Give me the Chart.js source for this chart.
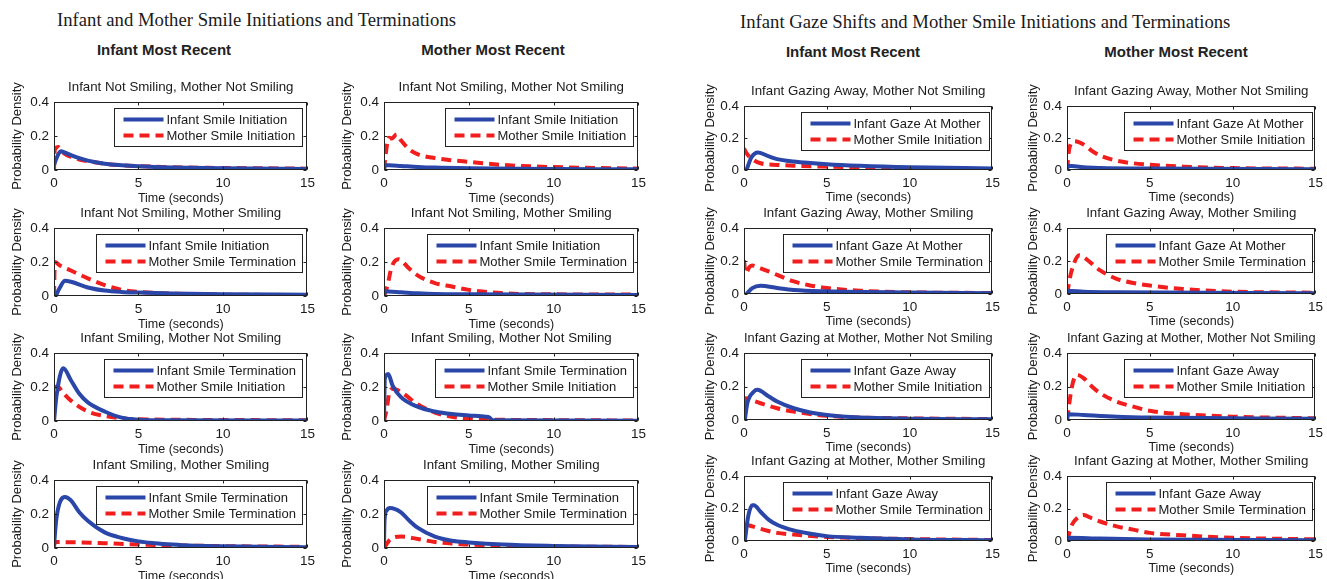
<!DOCTYPE html>
<html><head><meta charset="utf-8">
<script src="https://cdn.jsdelivr.net/npm/chart.js@4.4.1/dist/chart.umd.min.js"></script>
<style>
html,body{margin:0;padding:0;background:#fff}
body{width:1327px;height:579px;overflow:hidden;position:relative;font-family:"Liberation Sans",Arial,Helvetica,sans-serif;color:#1a1a1a}
.ptitle{position:absolute;font-family:"Liberation Serif","Times New Roman",serif;font-size:18.7px;line-height:22px;white-space:nowrap}
.chead{position:absolute;font-size:15px;line-height:18px;font-weight:bold;white-space:nowrap;transform:translateX(-50%);color:#222}
canvas{position:absolute}
</style></head><body>
<div class="ptitle" style="left:57px;top:9px">Infant and Mother Smile Initiations and Terminations</div>
<div class="ptitle" style="left:740px;top:11px">Infant Gaze Shifts and Mother Smile Initiations and Terminations</div>
<div class="chead" style="left:164px;top:41px">Infant Most Recent</div>
<div class="chead" style="left:493px;top:41px">Mother Most Recent</div>
<div class="chead" style="left:853px;top:43px">Infant Most Recent</div>
<div class="chead" style="left:1176px;top:43px">Mother Most Recent</div>
<script>
// ---------- tick labels ----------
const xTicks = [0, 5, 10, 15];
const yTicks = [0, 0.2, 0.4];

// ---------- Panel A: Infant and Mother Smile Initiations and Terminations ----------
const A_titles = ["Infant Not Smiling, Mother Not Smiling", "Infant Not Smiling, Mother Smiling",
                  "Infant Smiling, Mother Not Smiling", "Infant Smiling, Mother Smiling"];
const A_blueLabels = ["Infant Smile Initiation", "Infant Smile Initiation", "Infant Smile Termination", "Infant Smile Termination"];
const A_redLabels  = ["Mother Smile Initiation", "Mother Smile Termination", "Mother Smile Initiation", "Mother Smile Termination"];

// [time (s), density] pairs; c1 = Infant Most Recent, c2 = Mother Most Recent
const A_r1c1_blue = [[0,0.03],[0.15,0.07],[0.4,0.11],[0.7,0.1],[1,0.088],[1.5,0.07],[2,0.055],[3,0.037],[4,0.028],[5,0.022],[7,0.015],[10,0.01],[15,0.006]];
const A_r1c1_red  = [[0,0],[0.05,0.12],[0.25,0.135],[0.5,0.105],[0.8,0.085],[1,0.078],[1.5,0.062],[2,0.052],[3,0.037],[4,0.028],[5,0.023],[7,0.016],[10,0.012],[15,0.008]];
const A_r1c2_blue = [[0,0],[0.05,0.028],[0.3,0.028],[1,0.024],[2,0.018],[3,0.014],[5,0.01],[8,0.007],[15,0.004]];
const A_r1c2_red  = [[0,0],[0.15,0.13],[0.3,0.19],[0.45,0.185],[0.75,0.21],[1,0.175],[1.5,0.12],[2,0.092],[3,0.07],[4,0.057],[5,0.048],[7,0.03],[10,0.017],[15,0.008]];

const A_r2c1_blue = [[0.1,0],[0.35,0.05],[0.65,0.09],[1,0.084],[2,0.05],[3,0.032],[4,0.024],[5,0.02],[7,0.014],[10,0.01],[15,0.008]];
const A_r2c1_red  = [[0,0],[0.05,0.2],[0.35,0.18],[1,0.15],[2,0.104],[3,0.064],[4,0.036],[5,0.024],[7,0.014],[10,0.008],[15,0.006]];
const A_r2c2_blue = [[0,0],[0.05,0.028],[0.3,0.026],[1,0.022],[2,0.016],[3,0.012],[5,0.01],[15,0.006]];
const A_r2c2_red  = [[0,0],[0.2,0.06],[0.45,0.17],[0.85,0.216],[1.5,0.16],[2,0.12],[3,0.076],[4,0.056],[5,0.036],[7,0.016],[10,0.01],[15,0.008]];

const A_r3c1_blue = [[0,0],[0.15,0.15],[0.55,0.31],[1,0.24],[1.5,0.16],[2,0.11],[3,0.056],[4,0.02],[5,0.008],[7,0.004],[15,0.003]];
const A_r3c1_red  = [[0,0],[0.04,0.19],[0.2,0.205],[0.5,0.17],[1,0.12],[2,0.056],[3,0.03],[4,0.016],[5,0.01],[10,0.006],[15,0.004]];
const A_r3c2_blue = [[0,0],[0.05,0.25],[0.25,0.276],[0.5,0.21],[1,0.14],[2,0.083],[3,0.056],[4,0.041],[5,0.033],[6,0.025],[6.2,0.022],[6.4,0.004],[15,0.002]];
const A_r3c2_red  = [[0,0],[0.15,0.066],[0.35,0.18],[0.55,0.19],[1,0.17],[2,0.097],[3,0.05],[4,0.025],[5,0.014],[7,0.007],[10,0.005],[15,0.003]];

const A_r4c1_blue = [[0,0.015],[0.15,0.18],[0.65,0.3],[1,0.28],[1.5,0.21],[2,0.16],[3,0.092],[4,0.059],[5,0.039],[6,0.028],[7,0.02],[8,0.014],[10,0.01],[15,0.005]];
const A_r4c1_red  = [[0,0.005],[0.05,0.035],[1,0.034],[3,0.028],[5,0.021],[8,0.014],[10,0.011],[15,0.007]];
const A_r4c2_blue = [[0,0.01],[0.03,0.16],[0.15,0.22],[0.35,0.235],[1,0.21],[1.5,0.16],[2,0.118],[3,0.067],[4,0.043],[5,0.033],[7,0.02],[10,0.012],[15,0.006]];
const A_r4c2_red  = [[0,0],[0.3,0.043],[0.5,0.059],[1,0.067],[2,0.053],[3,0.035],[4,0.027],[5,0.02],[7,0.013],[10,0.009],[15,0.006]];

// ---------- Panel B: Infant Gaze Shifts and Mother Smile Initiations and Terminations ----------
const B_titles = ["Infant Gazing Away, Mother Not Smiling", "Infant Gazing Away, Mother Smiling",
                  "Infant Gazing at Mother, Mother Not Smiling", "Infant Gazing at Mother, Mother Smiling"];
const B_blueLabels = ["Infant Gaze At Mother", "Infant Gaze At Mother", "Infant Gaze Away", "Infant Gaze Away"];
const B_redLabels  = ["Mother Smile Initiation", "Mother Smile Termination", "Mother Smile Initiation", "Mother Smile Termination"];

const B_r1c1_blue = [[0.15,0],[0.45,0.08],[0.85,0.11],[1.5,0.085],[2,0.068],[3,0.053],[5,0.036],[7,0.026],[10,0.017],[15,0.01]];
const B_r1c1_red  = [[0,0.135],[0.15,0.105],[0.5,0.068],[1,0.042],[2,0.032],[3,0.027],[5,0.021],[10,0.01],[15,0.006]];
const B_r1c2_blue = [[0,0.0],[0.05,0.027],[1,0.017],[2,0.013],[5,0.009],[15,0.005]];
const B_r1c2_red  = [[0,0],[0.15,0.14],[0.45,0.18],[1,0.16],[1.5,0.12],[2,0.09],[3,0.058],[4,0.042],[5,0.033],[7,0.021],[10,0.012],[15,0.008]];

const B_r2c1_blue = [[0.15,0],[0.5,0.036],[1,0.05],[2,0.036],[3,0.024],[5,0.016],[10,0.009],[15,0.005]];
const B_r2c1_red  = [[0,0.205],[0.1,0.126],[0.35,0.166],[0.5,0.172],[1,0.156],[2,0.116],[3,0.076],[4,0.052],[5,0.036],[7,0.02],[10,0.01],[15,0.006]];
const B_r2c2_blue = [[0,0],[0.05,0.02],[1,0.014],[3,0.01],[15,0.005]];
const B_r2c2_red  = [[0,0],[0.25,0.13],[0.75,0.235],[1,0.224],[1.5,0.184],[2,0.143],[3,0.092],[4,0.067],[5,0.051],[7,0.03],[10,0.014],[15,0.008]];

const B_r3c1_blue = [[0.05,0],[0.2,0.1],[0.6,0.17],[0.8,0.18],[1.5,0.14],[2,0.11],[3,0.07],[4,0.045],[5,0.03],[7,0.015],[10,0.008],[15,0.004]];
const B_r3c1_red  = [[0,0],[0.1,0.13],[0.4,0.12],[1,0.1],[2,0.07],[3,0.05],[5,0.025],[7,0.015],[10,0.01],[15,0.005]];
const B_r3c2_blue = [[0,0],[0.05,0.035],[1,0.03],[3,0.02],[5,0.015],[15,0.008]];
const B_r3c2_red  = [[0,0],[0.3,0.2],[0.6,0.27],[1,0.25],[1.5,0.2],[2,0.16],[3,0.11],[4,0.08],[5,0.055],[7,0.035],[10,0.02],[15,0.01]];

const B_r4c1_blue = [[0.05,0],[0.25,0.15],[0.5,0.22],[0.6,0.22],[1,0.18],[1.5,0.13],[2,0.1],[3,0.065],[4,0.045],[5,0.03],[7,0.02],[10,0.01],[15,0.005]];
const B_r4c1_red  = [[0,0],[0.1,0.1],[0.5,0.09],[1,0.075],[2,0.05],[3,0.04],[5,0.025],[10,0.012],[15,0.006]];
const B_r4c2_blue = [[0,0],[0.05,0.02],[2,0.015],[5,0.01],[15,0.005]];
const B_r4c2_red  = [[0,0],[0.3,0.1],[0.6,0.14],[1,0.16],[1.5,0.14],[2,0.12],[3,0.09],[4,0.07],[5,0.05],[7,0.035],[10,0.02],[15,0.01]];

// ---------- styling / layout ----------
const FONT = '"Liberation Sans", Arial, Helvetica, sans-serif';
const TEXT = '#1a1a1a';
const BLUE = '#2a46a8';
const RED = '#f21d1d';
const PAD_L = 54, PAD_T = 28, PAD_B = 37, PAD_R = 12;

Chart.defaults.font.family = FONT;
Chart.defaults.color = TEXT;

const matlabAxes = {
  id: 'matlabAxes',
  afterDatasetsDraw(chart, args, opts) {
    const {ctx, chartArea: a, scales: {x, y}} = chart;
    ctx.save();
    // axes box
    ctx.strokeStyle = '#222';
    ctx.lineWidth = 1;
    ctx.setLineDash([]);
    const L = Math.round(a.left) + 0.5, R = Math.round(a.right) - 0.5, T = Math.round(a.top) + 0.5, B = Math.round(a.bottom) - 0.5;
    ctx.strokeRect(L, T, R - L, B - T);
    // inward tick marks
    ctx.beginPath();
    xTicks.forEach(v => {
      const px = Math.round(x.getPixelForValue(v)) + 0.5;
      ctx.moveTo(px, T); ctx.lineTo(px, T + 3);
      ctx.moveTo(px, B); ctx.lineTo(px, B - 3);
    });
    yTicks.forEach(v => {
      const py = Math.round(y.getPixelForValue(v)) + 0.5;
      ctx.moveTo(L, py); ctx.lineTo(L + 3, py);
      ctx.moveTo(R, py); ctx.lineTo(R - 3, py);
    });
    ctx.stroke();
    // legend inside, top right
    ctx.font = '13px ' + FONT;
    const ds = chart.data.datasets;
    const tw = Math.max(...ds.map(d => ctx.measureText(d.label).width));
    const lw = Math.round(52 + tw + 7), lh = 38;
    const lx = Math.round(a.right - opts.gap - lw) + 0.5, ly = Math.round(a.top + 6) + 0.5;
    ctx.fillStyle = '#fff';
    ctx.fillRect(lx, ly, lw, lh);
    ctx.strokeStyle = '#222';
    ctx.lineWidth = 1;
    ctx.strokeRect(lx, ly, lw, lh);
    ds.forEach((d, i) => {
      const cy = ly + 11 + i * 16;
      ctx.beginPath();
      ctx.setLineDash(d.borderDash || []);
      ctx.strokeStyle = d.borderColor;
      ctx.lineWidth = d.borderWidth;
      ctx.moveTo(lx + 9, cy); ctx.lineTo(lx + 49, cy);
      ctx.stroke();
      ctx.setLineDash([]);
      ctx.fillStyle = TEXT;
      ctx.textBaseline = 'middle';
      ctx.textAlign = 'left';
      ctx.fillText(d.label, lx + 52, cy + 0.5);
    });
    ctx.restore();
  }
};

function pts(arr) { return arr.map(p => ({x: p[0], y: p[1]})); }

function makeChart(left, top, w, h, title, blueLabel, blueData, redLabel, redData, opt) {
  const c = document.createElement('canvas');
  const W = PAD_L + w + PAD_R, H = PAD_T + h + PAD_B;
  c.width = W; c.height = H;
  c.style.left = (left - PAD_L) + 'px';
  c.style.top = (top - PAD_T) + 'px';
  c.style.width = W + 'px'; c.style.height = H + 'px';
  document.body.appendChild(c);
  new Chart(c, {
    type: 'line',
    data: {datasets: [
      {label: blueLabel, data: pts(blueData), borderColor: BLUE, borderWidth: 4, pointRadius: 0,
       cubicInterpolationMode: 'monotone', fill: false},
      {label: redLabel, data: pts(redData), borderColor: RED, borderWidth: 4, borderDash: [10, 6], pointRadius: 0,
       cubicInterpolationMode: 'monotone', fill: false}
    ]},
    options: {
      responsive: false, animation: false, devicePixelRatio: 1,
      layout: {padding: {left: 0, right: PAD_R, top: 0, bottom: 0}},
      plugins: {
        legend: {display: false}, tooltip: {enabled: false},
        title: {display: true, text: title, fullSize: false, color: TEXT,
                font: {size: 13.3, weight: 'normal', lineHeight: '16px'}, padding: {top: 5, bottom: 7}},
        matlabAxes: {gap: opt.gap}
      },
      scales: {
        x: {type: 'linear', min: 0, max: 15,
            afterBuildTicks: s => { s.ticks = xTicks.map(v => ({value: v})); },
            ticks: {font: {size: 13.5}, color: TEXT, padding: 5, maxRotation: 0, autoSkip: false},
            grid: {display: false, drawTicks: false}, border: {display: false},
            title: {display: true, text: 'Time (seconds)', color: TEXT, font: {size: 12.5, lineHeight: '16px'}, padding: {top: 0, bottom: opt.xtb}},
            afterFit: s => { s.height = PAD_B; }},
        y: {type: 'linear', min: 0, max: 0.4,
            afterBuildTicks: s => { s.ticks = yTicks.map(v => ({value: v})); },
            ticks: {font: {size: 13.5}, color: TEXT, padding: 5, callback: v => v === 0 ? '0' : v.toFixed(1)},
            grid: {display: false, drawTicks: false}, border: {display: false},
            title: {display: true, text: 'Probability Density', color: TEXT, font: {size: 13, lineHeight: '16px'}, padding: {top: opt.ytp, bottom: 0}},
            afterFit: s => { s.width = PAD_L; }}
      }
    },
    plugins: [matlabAxes]
  });
}

const A_data = [[A_r1c1_blue, A_r1c1_red, A_r1c2_blue, A_r1c2_red],
                [A_r2c1_blue, A_r2c1_red, A_r2c2_blue, A_r2c2_red],
                [A_r3c1_blue, A_r3c1_red, A_r3c2_blue, A_r3c2_red],
                [A_r4c1_blue, A_r4c1_red, A_r4c2_blue, A_r4c2_red]];
const B_data = [[B_r1c1_blue, B_r1c1_red, B_r1c2_blue, B_r1c2_red],
                [B_r2c1_blue, B_r2c1_red, B_r2c2_blue, B_r2c2_red],
                [B_r3c1_blue, B_r3c1_red, B_r3c2_blue, B_r3c2_red],
                [B_r4c1_blue, B_r4c1_red, B_r4c2_blue, B_r4c2_red]];

const A_layout = {cols: [[54, 254], [384, 255]], rows: [[102, 68], [228, 68], [353, 68], [480, 68]], opt: {gap: 5, ytp: 9, xtb: 0}};
const B_layout = {cols: [[744, 249], [1067, 249]], rows: [[106, 64], [228, 66], [353, 67], [476, 65]], opt: {gap: 3, ytp: 12, xtb: 1}};

function buildPanel(layout, titles, blueLabels, redLabels, data) {
  for (let r = 0; r < 4; r++) {
    for (let c = 0; c < 2; c++) {
      const [left, w] = layout.cols[c];
      const [top, h] = layout.rows[r];
      makeChart(left, top, w, h, titles[r], blueLabels[r], data[r][c * 2], redLabels[r], data[r][c * 2 + 1], layout.opt);
    }
  }
}
buildPanel(A_layout, A_titles, A_blueLabels, A_redLabels, A_data);
buildPanel(B_layout, B_titles, B_blueLabels, B_redLabels, B_data);
</script>
</body></html>
